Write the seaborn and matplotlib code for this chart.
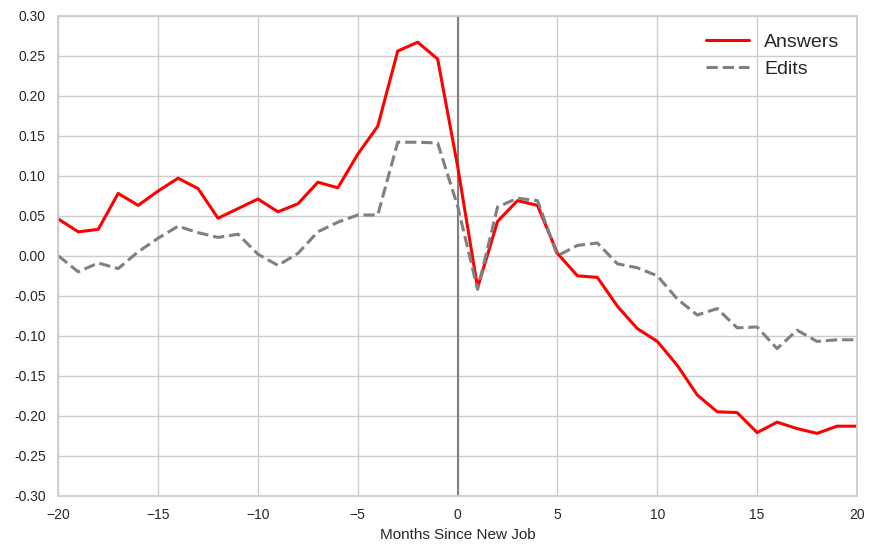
import numpy as np
import pandas as pd
import matplotlib
matplotlib.use('Agg')
import matplotlib.pyplot as plt
import seaborn as sns

months = list(range(-20, 21))

answers = [0.046, 0.030, 0.033, 0.078, 0.063, 0.081, 0.097, 0.084, 0.047, 0.059,
           0.071, 0.055, 0.065, 0.092, 0.085, 0.127, 0.162, 0.256, 0.267, 0.246,
           0.112, -0.040, 0.043, 0.069, 0.063, 0.003, -0.025, -0.027, -0.063, -0.091,
           -0.107, -0.137, -0.174, -0.195, -0.196, -0.221, -0.208, -0.216, -0.222, -0.213,
           -0.213]

edits = [0.000, -0.020, -0.009, -0.016, 0.005, 0.022, 0.037, 0.029, 0.023, 0.027,
         0.002, -0.012, 0.003, 0.030, 0.042, 0.051, 0.051, 0.142, 0.142, 0.141,
         0.062, -0.042, 0.061, 0.072, 0.069, 0.000, 0.013, 0.016, -0.010, -0.015,
         -0.025, -0.054, -0.074, -0.066, -0.090, -0.089, -0.116, -0.093, -0.107, -0.105,
         -0.105]

df = pd.DataFrame({'month': months, 'Answers': answers, 'Edits': edits})

sns.set_theme(style='whitegrid')
plt.rcParams['font.family'] = ['Liberation Sans', 'DejaVu Sans']

fig, ax = plt.subplots(figsize=(8.7, 5.46), dpi=100)
fig.subplots_adjust(left=0.067, right=0.985, top=0.971, bottom=0.092)

ax.axvline(0, color='gray', lw=1.5, zorder=1)
sns.lineplot(data=df, x='month', y='Answers', ax=ax, color='red', lw=2.2, label='Answers')
sns.lineplot(data=df, x='month', y='Edits', ax=ax, color='gray', lw=2.2,
             linestyle='--', label='Edits')

yt = np.round(np.arange(-0.30, 0.301, 0.05), 2) + 0.0
ax.set_xlim(-20, 20)
ax.set_ylim(-0.3, 0.3)
ax.set_yticks(yt)
ax.set_yticklabels(['%.2f' % (v if abs(v) > 1e-9 else 0.0) for v in yt])
ax.set_xlabel('Months Since New Job', fontsize=11)
ax.set_ylabel('')
ax.tick_params(labelsize=10, pad=3)
for s in ax.spines.values():
    s.set_color('#cccccc')
ax.grid(color='#cccccc', lw=1)

leg = ax.legend(loc='upper right', fontsize=14, frameon=False, handlelength=2.2)

plt.savefig('out.png', dpi=100)
